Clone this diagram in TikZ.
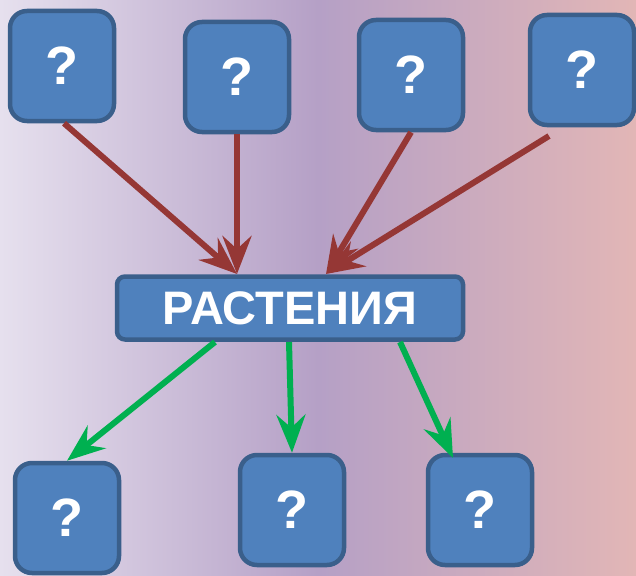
\documentclass[tikz,border=0pt]{standalone}
\usepackage{fontspec}
\setmainfont{Liberation Sans}
\usetikzlibrary{arrows.meta}
\definecolor{boxfill}{HTML}{4F81BD}
\definecolor{boxline}{HTML}{3A5F8B}
\definecolor{upred}{HTML}{953735}
\definecolor{downgreen}{HTML}{00B050}
\definecolor{bgl}{HTML}{E6E0EE}
\definecolor{bgm}{HTML}{B5A0C6}
\definecolor{bgr}{HTML}{E2B6B6}
\begin{document}
\begin{tikzpicture}[x=1pt,y=-1pt,
	q/.style={draw=boxline,fill=boxfill,line width=4.5pt,rounded corners=17pt,minimum width=104pt,minimum height=110pt,text=white,font=\bfseries\fontsize{54}{54}\selectfont},
	up/.style={draw=upred,line width=6pt,-{Stealth[length=38pt,width=29pt,inset=13pt]}},
	down/.style={draw=downgreen,line width=6pt,-{Stealth[length=38pt,width=29pt,inset=13pt]}}]
		\shade[left color=bgl,right color=bgr,middle color=bgm] (0,0) rectangle (636,575);
		\useasboundingbox (0,0) rectangle (636,575);
		\node[q] (a1) at (62,66){?};
		\node[q] (a2) at (237,77){?};
		\node[q] (a3) at (411,75){?};
		\node[q] (a4) at (582,70){?};
		\node[draw=boxline,fill=boxfill,line width=4.5pt,rounded corners=8pt,minimum width=346pt,minimum height=63pt,text=white,font=\bfseries\fontsize{47}{47}\selectfont] (p) at (290,308){РАСТЕНИЯ};
		\node[q] (b1) at (67,518){?};
		\node[q] (b2) at (292,510){?};
		\node[q] (b3) at (480,510){?};
		\coordinate (pl) at (237,274);
		\coordinate (pr) at (326,274);
		\draw[up] (a1.south) ++(2,0) -- (pl);
		\draw[up] (a2.south) -- (pl);
		\draw[up] (a3.south) -- (pr);
		\draw[up] (549,136) -- (pr);
		\draw[down] (215,342) -- (b1.north);
		\draw[down] (289,342) -- (b2.north);
		\draw[down] (400,342) -- (453,458);
\end{tikzpicture}
\end{document}
